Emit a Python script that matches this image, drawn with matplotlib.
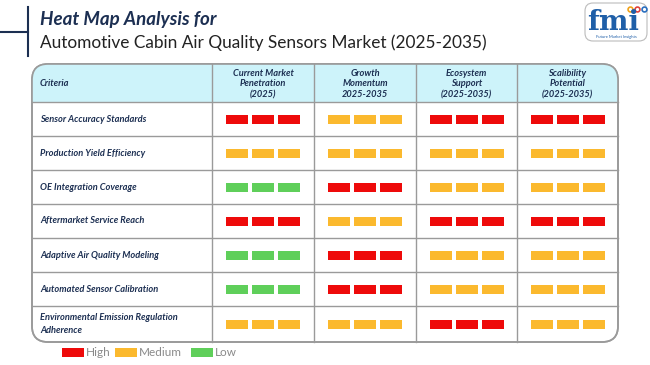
import matplotlib.pyplot as plt
from matplotlib.patches import Rectangle, FancyBboxPatch

plt.rcParams['font.family'] = ['Lato', 'DejaVu Sans']

# chart data
criteria = ['Sensor Accuracy Standards', 'Production Yield Efficiency', 'OE Integration Coverage',
            'Aftermarket Service Reach', 'Adaptive Air Quality Modeling', 'Automated Sensor Calibration',
            'Environmental Emission Regulation\nAdherence']
columns = ['Current Market\nPenetration\n(2025)', 'Growth\nMomentum\n2025-2035',
           'Ecosystem\nSupport\n(2025-2035)', 'Scalibility\nPotential\n(2025-2035)']
current_penetration = ['High', 'Medium', 'Low', 'High', 'Low', 'Low', 'Medium']
growth_momentum = ['Medium', 'Medium', 'High', 'Medium', 'High', 'High', 'Medium']
ecosystem_support = ['High', 'Medium', 'Medium', 'High', 'Medium', 'Medium', 'High']
scalability = ['High', 'Medium', 'Medium', 'High', 'Medium', 'Medium', 'Medium']
levels = ['High', 'Medium', 'Low']
level_colors = {'High': '#ee0a0a', 'Medium': '#fbb92e', 'Low': '#5fcf5a'}

NAVY = '#1c2f52'
GRID = '#9a9a9a'

fig = plt.figure(figsize=(6.5, 3.65), dpi=100)
ax = fig.add_axes([0, 0, 1, 1])
ax.set_xlim(0, 650)
ax.set_ylim(365, 0)
ax.axis('off')

# title block
ax.plot([0, 28], [32, 32], color=NAVY, lw=1.5)
ax.plot([28, 28], [7, 56], color=NAVY, lw=1.5)
ax.text(40, 19, 'Heat Map Analysis for', fontsize=13.5, fontweight='bold', fontstyle='italic',
        color=NAVY, va='center')
ax.text(40, 43, 'Automotive Cabin Air Quality Sensors Market (2025-2035)', fontsize=12.4,
        color='#222222', va='center')

# logo
ax.add_patch(FancyBboxPatch((585, 3), 62, 38, boxstyle='round,pad=0,rounding_size=8',
                            fc='white', ec='#bbbbbb', lw=0.8))
ax.text(613, 23, 'fmi', fontsize=20, fontweight='bold', color='#1f5fa8', ha='center', va='center',
        family='DejaVu Serif')
for dx, c in zip([630, 637, 644], ['#f0a21a', '#e0413a', '#2a6fbf']):
    ax.plot(dx, 9, 'o', ms=3.5, mfc='white', mec=c, mew=1.2)
ax.text(616, 37, 'Future Market Insights', fontsize=3, color='#1f5fa8', ha='center', va='center')

# table geometry
x_edges = [32, 212, 314, 416, 517, 618]
y_top, y_head = 64, 102
row_h = [34, 34, 34, 34, 34, 34, 36]
y_edges = [y_head]
for h in row_h:
    y_edges.append(y_edges[-1] + h)
y_bot = y_edges[-1]

frame = FancyBboxPatch((x_edges[0], y_top), x_edges[-1] - x_edges[0], y_bot - y_top,
                       boxstyle='round,pad=0,rounding_size=16', fc='white', ec=GRID, lw=1.2, zorder=1)
ax.add_patch(frame)
head = Rectangle((x_edges[0], y_top), x_edges[-1] - x_edges[0], y_head - y_top, fc='#cdf3fa',
                 ec='none', zorder=2)
ax.add_patch(head)
head.set_clip_path(frame)
ax.add_patch(FancyBboxPatch((x_edges[0], y_top), x_edges[-1] - x_edges[0], y_bot - y_top,
                            boxstyle='round,pad=0,rounding_size=16', fc='none', ec=GRID, lw=1.2, zorder=4))

for x in x_edges[1:-1]:
    ax.plot([x, x], [y_top, y_bot], color=GRID, lw=1, zorder=3)
for y in y_edges[:-1]:
    ax.plot([x_edges[0], x_edges[-1]], [y, y], color=GRID, lw=1, zorder=3)

ax.text(40, (y_top + y_head) / 2, 'Criteria', fontsize=6.7, fontstyle='italic', fontweight='bold',
        color=NAVY, va='center', zorder=5)
for i, col in enumerate(columns):
    ax.text((x_edges[i + 1] + x_edges[i + 2]) / 2, (y_top + y_head) / 2 + 1, col, fontsize=6.7,
            fontstyle='italic', fontweight='bold', color=NAVY, ha='center', va='center',
            linespacing=1.25, zorder=5)

series = [current_penetration, growth_momentum, ecosystem_support, scalability]
blk_w, blk_h, gap = 22, 9, 4
for r, name in enumerate(criteria):
    yc = (y_edges[r] + y_edges[r + 1]) / 2
    ax.text(40, yc, name, fontsize=6.7, fontstyle='italic', fontweight='bold', color=NAVY,
            va='center', linespacing=1.5, zorder=5)
    for c, vals in enumerate(series):
        xc = (x_edges[c + 1] + x_edges[c + 2]) / 2
        for k in range(3):
            x0 = xc + (k - 1) * (blk_w + gap) - blk_w / 2
            ax.add_patch(Rectangle((x0, yc - blk_h / 2), blk_w, blk_h, fc=level_colors[vals[r]],
                                   ec='none', zorder=5))

# legend
lx = 62
for lev, w in zip(levels, [53, 76, 0]):
    ax.add_patch(Rectangle((lx, 348), 22, 9, fc=level_colors[lev], ec='none'))
    ax.text(lx + 24, 352.5, lev, fontsize=8.5, color='#8a8a8a', va='center')
    lx += w

fig.savefig('out.png', dpi=100)
